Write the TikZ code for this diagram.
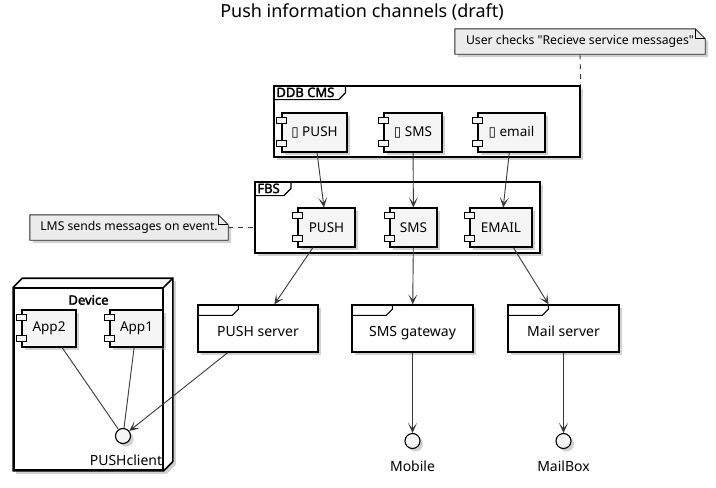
\documentclass[tikz,border=0pt]{standalone}
\usepackage{fontspec}
\setmainfont{Noto Sans}[AutoFakeBold=2.2]
\newfontfamily\boxglyph{DejaVu Sans}
\usetikzlibrary{arrows.meta,shadows,backgrounds,positioning}

\definecolor{compfill}{RGB}{245,245,245}
\definecolor{notefill}{RGB}{236,236,236}
\definecolor{edgecol}{RGB}{56,56,56}

\tikzset{
  softshadow/.style={drop shadow={shadow xshift=3pt, shadow yshift=-3pt, fill=black!40, opacity=0.45}},
  comp/.style={draw=black, line width=1.1pt, fill=compfill, softshadow, minimum height=39pt, inner sep=0pt, font=\fontsize{13.5}{16}\selectfont},
  tabbox/.style={draw=black, line width=1pt, fill=compfill},
  framebox/.style={draw=black, line width=1.6pt, fill=white, softshadow, inner sep=0pt},
  framelabel/.style={inner xsep=3pt, inner ysep=0pt, minimum height=14pt, anchor=north west, font=\bfseries\fontsize{13}{15}\selectfont},
  devicebox/.style={draw=black, line width=1.6pt, fill=white, inner sep=0pt},
  server/.style={draw=black, line width=1.3pt, fill=white, softshadow, minimum height=47pt, inner sep=0pt, text height=19pt, text depth=3pt, font=\fontsize{14}{16}\selectfont},
  iface/.style={circle, draw=black, line width=1.1pt, fill=compfill, softshadow, minimum size=15pt, inner sep=0pt},
  note/.style={inner sep=0pt, minimum height=25pt, font=\fontsize{12.2}{15}\selectfont},
  notebox/.style={draw=black!85, line width=0.9pt, fill=notefill, softshadow},
  arr/.style={draw=edgecol, line width=0.9pt, -{Stealth[length=10pt, width=9pt, inset=5.5pt]}},
  link/.style={draw=edgecol, line width=0.9pt},
  notelink/.style={draw=edgecol, line width=0.9pt, dash pattern=on 5pt off 5pt},
  plainlbl/.style={font=\fontsize{14}{16}\selectfont}
}

\begin{document}
\begin{tikzpicture}[x=1pt, y=-1pt]
  \useasboundingbox (0,0) rectangle (716,488);

  % Title
  \node[font=\fontsize{18}{21}\selectfont] (title) at (362,12) {Push information channels (draft)};

  % Notes
  \node[note, minimum width=250pt] (note1) at (580,41.5) {User checks \textquotedbl Recieve service messages\textquotedbl\hspace{6pt}};
  \node[note, minimum width=198pt] (note2) at (129,227.5) {LMS sends messages on event.\hspace{4pt}};

  % DDB CMS
  \node[framebox, minimum width=306pt, minimum height=71pt] (ddb) at (427,121.5) {};
  \node[framelabel] (ddblbl) at (ddb.north west) {DDB CMS};
  \draw[line width=1.2pt] (ddblbl.south west) -- ([xshift=1pt]ddblbl.south east) -- ([xshift=8pt,yshift=7pt]ddblbl.south east) -- ([xshift=8pt]ddblbl.north east);
  \node[comp, minimum width=65pt] (cpush) at (314.5,132.5) {{\boxglyph ▯} PUSH};
  \node[comp, minimum width=58pt] (csms) at (413,132.5) {{\boxglyph ▯} SMS};
  \node[comp, minimum width=67pt] (cmail) at (511.5,132.5) {{\boxglyph ▯} email};

  % FBS
  \node[framebox, minimum width=285pt, minimum height=71pt] (fbs) at (397.5,217.5) {};
  \node[framelabel] (fbslbl) at (fbs.north west) {FBS};
  \draw[line width=1.2pt] (fbslbl.south west) -- ([xshift=1pt]fbslbl.south east) -- ([xshift=8pt,yshift=7pt]fbslbl.south east) -- ([xshift=8pt]fbslbl.north east);
  \node[comp, minimum width=57pt] (fpush) at (326.5,227.5) {PUSH};
  \node[comp, minimum width=47pt] (fsms) at (413.5,227.5) {SMS};
  \node[comp, minimum width=62pt] (fmail) at (501,227.5) {EMAIL};

  % Device
  \node[devicebox, minimum width=149pt, minimum height=182pt] (device) at (88.5,379) {};
  \draw[line width=1.6pt] (device.north east) -- ++(9pt,9pt);
  \node[font=\bfseries\fontsize{13}{15}\selectfont] (devlbl) at (88.5,300) {Device};
  \node[comp, minimum width=54pt, minimum height=37pt] (app2) at (49,328.5) {App2};
  \node[comp, minimum width=53pt, minimum height=37pt] (app1) at (136.5,328.5) {App1};
  \node[iface] (pclient) at (123,436) {};
  \node[plainlbl] (pclientlbl) at (126,460) {PUSHclient};

  % component tabs
  \foreach \c in {cpush,csms,cmail,fpush,fsms,fmail,app2,app1} {
    \filldraw[tabbox] ([xshift=-5pt,yshift=-5pt]\c.north west) rectangle ++(10pt,-6pt);
    \filldraw[tabbox] ([xshift=-5pt,yshift=6pt]\c.south west) rectangle ++(10pt,6pt);
  }

  % Servers
  \node[server, minimum width=120pt] (pserver) at (258,328.5) {PUSH server};
  \node[server, minimum width=121pt] (sgate) at (412.5,328.5) {SMS gateway};
  \node[server, minimum width=111pt] (mserver) at (563.5,328.5) {Mail server};
  \foreach \s in {pserver,sgate,mserver}
    \draw[line width=1.1pt] ([yshift=-11pt]\s.north west) -- ++(35pt,0) -- ++(6pt,6pt) -- ++(0,5pt);

  \node[iface] (mobile) at (412.5,441) {};
  \node[plainlbl] (mobilelbl) at (412.5,466) {Mobile};
  \node[iface] (mailbox) at (563.5,441) {};
  \node[plainlbl] (mailboxlbl) at (563.5,466) {MailBox};

  % note shapes and device outline
  \begin{scope}[on background layer]
    \foreach \n in {note1,note2} {
      \filldraw[notebox] (\n.south west) -- (\n.north west) -- ([xshift=-10pt]\n.north east) -- ([yshift=-10pt]\n.north east) -- (\n.south east) -- cycle;
      \draw[line width=0.9pt] ([xshift=-10pt]\n.north east) |- ([yshift=-10pt]\n.north east);
    }
    \filldraw[devicebox, softshadow] (device.north west) -- ++(9pt,9pt) -- ([shift={(9pt,9pt)}]device.north east) -- ([shift={(9pt,9pt)}]device.south east) -- (device.south east) -- (device.south west) -- cycle;
  \end{scope}

  % Connectors
  \draw[arr] (cpush) -- (fpush);
  \draw[arr] (csms) -- (fsms);
  \draw[arr] (cmail) -- (fmail);
  \draw[arr] (fpush) -- (pserver);
  \draw[arr] (fsms) -- (sgate);
  \draw[arr] (fmail) -- (mserver);
  \draw[arr] (sgate) -- (mobile);
  \draw[arr] (mserver) -- (mailbox);
  \draw[arr] (pserver) -- (pclient);
  \draw[link] (app2) -- (pclient);
  \draw[link] (app1) -- (pclient);
  \draw[notelink] (note1.south) -- (ddb.north east);
  \draw[notelink] (note2.east) -- (note2.east -| fbs.west);
\end{tikzpicture}
\end{document}
